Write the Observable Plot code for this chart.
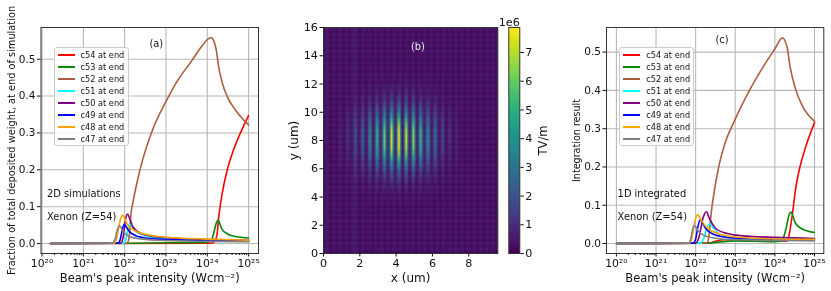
<!DOCTYPE html>
<html><head><meta charset="utf-8">
<script src="https://cdn.jsdelivr.net/npm/d3@7"></script>
<script src="https://cdn.jsdelivr.net/npm/@observablehq/plot@0.6"></script>
<style>
html,body{margin:0;padding:0;background:#fff;overflow:hidden}
#page{position:relative;width:831px;height:291px;overflow:hidden;font-family:"DejaVu Sans",sans-serif;filter:blur(0.45px)}
.legend{position:absolute;top:47px;width:73px;height:97px;background:rgba(255,255,255,.85);border:1px solid #ccc;border-radius:3px;box-sizing:content-box}
.legend div{position:absolute;left:26px;font-size:8.2px;line-height:12px;color:#111;white-space:nowrap}
.legend i{position:absolute;left:3px;width:17px;height:1.5px}
</style></head><body><div id="page"></div>
<script>
const seriesNames = ["c54 at end","c53 at end","c52 at end","c51 at end","c50 at end","c49 at end","c48 at end","c47 at end"];
const seriesColors = ["#ff0000","#0a8a0a","#a9603f","#00ffff","#800080","#0000ff","#ffa500","#808080"];

// [log10 intensity, value]
const a54 = [[20.2,0],[24.1,0.001],[24.16,0.004],[24.23,0.02],[24.28,0.075],[24.36,0.135],[24.48,0.198],[24.64,0.255],[24.81,0.302],[25,0.347]];
const a53 = [[20.2,0],[22.2,0.001],[23,0.002],[24,0.003],[24.06,0.005],[24.1,0.008],[24.16,0.03],[24.22,0.056],[24.26,0.064],[24.3,0.055],[24.35,0.04],[24.49,0.026],[24.69,0.019],[25,0.015]];
const a52 = [[20.2,0],[22.06,0.001],[22.1,0.013],[22.13,0.044],[22.15,0.076],[22.21,0.117],[22.31,0.171],[22.43,0.225],[22.53,0.262],[22.71,0.318],[22.99,0.383],[23.28,0.442],[23.6,0.492],[23.88,0.537],[24.02,0.555],[24.1,0.558],[24.16,0.549],[24.22,0.523],[24.27,0.483],[24.36,0.437],[24.49,0.397],[24.69,0.361],[25,0.322]];
const a51 = [[20.2,0],[21.98,0.001],[22.03,0.012],[22.08,0.04],[22.12,0.052],[22.18,0.045],[22.3,0.03],[22.8,0.015],[23.5,0.01],[25,0.007]];
const a50 = [[20.2,0],[21.9,0.001],[21.96,0.015],[22.02,0.065],[22.07,0.08],[22.12,0.068],[22.2,0.045],[22.4,0.027],[22.8,0.018],[23.5,0.013],[24.5,0.01],[25,0.009]];
const a49 = [[20.2,0],[21.83,0.001],[21.89,0.01],[21.95,0.04],[21.99,0.052],[22.04,0.045],[22.1,0.035],[22.3,0.02],[22.8,0.012],[23.5,0.009],[25,0.007]];
const a48 = [[20.2,0],[21.74,0.001],[21.8,0.012],[21.89,0.062],[21.95,0.077],[22,0.068],[22.05,0.055],[22.2,0.038],[22.5,0.025],[23,0.017],[24,0.012],[25,0.009]];
const a47 = [[20.2,0],[21.7,0.001],[21.76,0.01],[21.83,0.04],[21.88,0.048],[21.95,0.035],[22.1,0.02],[22.3,0.014],[22.8,0.009],[24,0.006],[25,0.005]];

// [log10 intensity, value]
const c54 = [[20,0],[22.35,0.001],[22.5,0.006],[22.7,0.01],[23.3,0.008],[24,0.006],[24.3,0.006],[24.35,0.018],[24.44,0.075],[24.52,0.14],[24.63,0.199],[24.77,0.25],[25,0.316]];
const c53 = [[20,0],[22.3,0.001],[22.7,0.005],[23,0.007],[23.5,0.006],[24,0.005],[24.17,0.006],[24.22,0.016],[24.29,0.043],[24.37,0.078],[24.41,0.082],[24.45,0.074],[24.52,0.053],[24.69,0.038],[25,0.029]];
const c52 = [[20,0],[22.28,0.001],[22.33,0.015],[22.36,0.045],[22.39,0.077],[22.46,0.13],[22.58,0.199],[22.73,0.258],[23,0.325],[23.38,0.404],[23.72,0.464],[24.02,0.512],[24.17,0.536],[24.21,0.537],[24.25,0.531],[24.31,0.512],[24.38,0.464],[24.52,0.404],[24.69,0.36],[25,0.319]];
const c51 = [[20,0],[22.12,0.001],[22.2,0.012],[22.3,0.045],[22.36,0.052],[22.45,0.04],[22.6,0.025],[23,0.013],[24,0.009],[25,0.009]];
const c50 = [[20,0],[22,0.001],[22.08,0.015],[22.19,0.068],[22.27,0.083],[22.35,0.065],[22.5,0.04],[22.8,0.026],[23.2,0.02],[24,0.016],[25,0.013]];
const c49 = [[20,0],[21.94,0.001],[22,0.012],[22.07,0.05],[22.12,0.062],[22.18,0.053],[22.25,0.04],[22.4,0.027],[22.8,0.016],[23.5,0.012],[25,0.01]];
const c48 = [[20,0],[21.84,0.001],[21.9,0.012],[21.99,0.062],[22.05,0.076],[22.1,0.069],[22.15,0.06],[22.3,0.04],[22.6,0.025],[23,0.017],[24,0.012],[25,0.011]];
const c47 = [[20,0],[21.82,0.001],[21.87,0.01],[21.93,0.04],[21.97,0.047],[22.05,0.035],[22.2,0.022],[22.5,0.014],[23,0.01],[24,0.008],[25,0.007]];

const aSeries = [a54,a53,a52,a51,a50,a49,a48,a47];
const cSeries = [c54,c53,c52,c51,c50,c49,c48,c47];

const decades = [20,21,22,23,24,25];
const yTicksFrac = [0,0.1,0.2,0.3,0.4,0.5];
const sup = {"0":"⁰","1":"¹","2":"²","3":"³","4":"⁴","5":"⁵","6":"⁶","7":"⁷","8":"⁸","9":"⁹"};
const xLabel = "Beam's peak intensity (Wcm⁻²)";

// panel (b) field, 1e6 TV/m: peak height per 0.1 um column, envelope per 0.2 um row
const colAmp = [0,0,0,0,0,0,0,0,.1,.35,.12,.02,.25,.8,.28,.03,.45,1.4,.5,.05,.7,2.2,.8,.08,1.2,3.5,1.3,.1,1.7,4.8,1.8,.12,2.1,5.8,2.3,.15,2.7,7.2,2.8,.15,3,7.85,2.9,.15,2.7,7,2.6,.15,2.2,6,2.2,.12,1.8,5,1.8,.1,1.4,3.8,1.3,.08,1,2.7,.85,.05,.5,1.4,.45,.03,.25,.7,.25,.02,.12,.4,.12,.01,0,0,0,0,0,0,0,0,0,0,0,0,0,0,0,0,0,0,0,0];
const rowEnv = [0,0,0,0,0,0,0,0,0,0,0,0,0,0,0,0,0,0,.01,.02,.03,.04,.06,.08,.11,.15,.19,.24,.3,.37,.44,.52,.6,.68,.76,.84,.9,.95,.98,1,1,1,.98,.95,.9,.84,.76,.68,.6,.52,.44,.37,.3,.24,.19,.15,.11,.08,.06,.04,.03,.02,.01,0,0,0,0,0,0,0,0,0,0,0,0,0,0,0,0,0];
// faint plaid in the background
const colBg = [.08,.3,.34,.1,.06,.3,.2,.08,.32,.26,.06,.14,.34,.14,.06,.3,.3,.42,.3,.1,.08,.3,.26,.08,.18,.32,.08,.1,.32,.18,.06,.26,.3,.08,.14,.34,.14,.06,.3,.26,.06,.18,.32,.1,.08,.32,.22,.06,.22,.32,.08,.1,.34,.14,.06,.3,.26,.08,.18,.32,.1,.08,.32,.18,.06,.26,.3,.08,.14,.34,.14,.06,.3,.26,.06,.18,.32,.1,.08,.32,.22,.06,.22,.32,.08,.1,.34,.14,.06,.3,.26,.08,.18,.32,.1,.08];
const rowBg = [.04,.26,.1,.3,.04,.24,.1,.3,.04,.26,.1,.3,.04,.24,.1,.3,.04,.26,.1,.3,.04,.24,.1,.3,.04,.26,.1,.3,.04,.24,.1,.3,.04,.26,.1,.3,.04,.24,.1,.3,.04,.26,.1,.3,.04,.24,.1,.3,.04,.26,.1,.3,.04,.24,.1,.3,.04,.26,.1,.3,.04,.24,.1,.3,.04,.26,.1,.3,.04,.24,.1,.3,.04,.26,.1,.3,.04,.24,.1,.3];
const vMax = 7.87;
const cbTicks = [0,1,2,3,4,5,6,7];
const xTicksB = [0,2,4,6,8];
const yTicksB = [0,2,4,6,8,10,12,14,16];

const page = document.getElementById("page");
const baseStyle = {fontFamily:"DejaVu Sans",background:"transparent",color:"#111",overflow:"visible"};
const place = (el,left)=>{el.style.position="absolute";el.style.left=left+"px";el.style.top="0";page.appendChild(el);};
const minors = d3.range(20,25).flatMap(d=>d3.range(2,10).map(m=>m*10**d));

function curvePanel({series,left,width,mL,mR,xDom,yDom,yLabel,yLabelSize,yOff,notes}){
  const rows = series.flatMap((pts,k)=>pts.map(p=>({x:10**p[0],y:p[1],k})));
  const plot = Plot.plot({
    width,height:291,marginLeft:mL,marginRight:mR,marginTop:27,marginBottom:38,
    style:baseStyle,
    x:{type:"log",domain:xDom.map(v=>10**v)},
    y:{domain:yDom},
    marks:[
      Plot.ruleX(decades.map(d=>10**d),{stroke:"#b8b8b8",strokeWidth:1.1}),
      Plot.ruleY(yTicksFrac,{stroke:"#b8b8b8",strokeWidth:1.1}),
      ...series.map((pts,k)=>Plot.line(rows.filter(r=>r.k===k),{x:"x",y:"y",stroke:seriesColors[k],strokeWidth:1.6,curve:"monotone-x"})),
      Plot.frame({stroke:"#333",strokeWidth:1}),
      Plot.axisX({ticks:decades.map(d=>10**d),tickFormat:v=>"10"+String(Math.round(Math.log10(v))).replace(/./g,c=>sup[c]),tickSize:3.5,tickPadding:2,fontSize:10.8,
        label:xLabel,labelAnchor:"center",labelArrow:"none",labelOffset:28}),
      Plot.axisX({ticks:minors,tickFormat:()=>"",tickSize:2,label:null}),
      Plot.axisY({ticks:yTicksFrac,tickFormat:d3.format(".1f"),tickSize:3.5,tickPadding:2,fontSize:10.5,
        label:yLabel,labelAnchor:"center",labelArrow:"none",labelOffset:yOff}),
      Plot.text(notes,{x:d=>10**d.x,y:"y",text:"t",textAnchor:"start",fontSize:9.9,fill:"#111"})
    ]
  });
  plot.querySelectorAll("g[aria-label='y-axis label'] text").forEach(t=>t.setAttribute("font-size",yLabelSize));
  plot.querySelectorAll("g[aria-label='x-axis label'] text").forEach(t=>t.setAttribute("font-size",11.5));
  place(plot,left);
}
function legend(left){
  const box=document.createElement("div");box.className="legend";box.style.left=left+"px";
  seriesNames.forEach((n,k)=>{
    const row=document.createElement("div");row.textContent=n;row.style.top=(12*k+0.7)+"px";
    const s=document.createElement("i");s.style.background=seriesColors[k];s.style.top=(12*k+6)+"px";
    box.appendChild(row);box.appendChild(s);
  });
  page.appendChild(box);
}

curvePanel({series:aSeries,left:0,width:290,mL:40.5,mR:32,xDom:[19.975,25.24],yDom:[-0.027,0.586],
  yLabel:"Fraction of total deposited weight, at end of simulation",yLabelSize:9.8,yOff:33,
  notes:[{x:22.6,y:0.541,t:"(a)"},{x:20.12,y:0.135,t:"2D simulations"},{x:20.12,y:0.073,t:"Xenon (Z=54)"}]});
legend(53.5);
curvePanel({series:cSeries,left:560,width:271,mL:46,mR:7.7,xDom:[19.75,25.235],yDom:[-0.026,0.5643],
  yLabel:"Integration result",yLabelSize:9.6,yOff:33,
  notes:[{x:22.5,y:0.531,t:"(c)"},{x:20.03,y:0.13,t:"1D integrated"},{x:20.03,y:0.0704,t:"Xenon (Z=54)"}]});
legend(619.3);

// panel (b)
const field = rowEnv.flatMap((e,j)=>colAmp.map((a,i)=>a*e+colBg[i]+rowBg[j]));
const colorOpt = {type:"linear",scheme:"viridis",domain:[0,vMax]};
const b = Plot.plot({
  width:230,height:291,marginLeft:43,marginRight:12.7,marginTop:27,marginBottom:38,style:baseStyle,
  x:{domain:[0,9.6]},y:{domain:[0,16]},color:colorOpt,
  marks:[
    Plot.raster(field,{width:colAmp.length,height:rowEnv.length,x1:0,x2:9.6,y1:0,y2:16,imageRendering:"auto"}),
    Plot.frame({stroke:"#333",strokeWidth:1}),
    Plot.axisX({ticks:xTicksB,tickFormat:d=>String(d),tickSize:3.5,tickPadding:2,fontSize:11.2,label:"x (um)",labelAnchor:"center",labelArrow:"none",labelOffset:28}),
    Plot.axisY({ticks:yTicksB,tickFormat:d=>String(d),tickSize:3.5,tickPadding:2,fontSize:11.2,label:"y (um)",labelAnchor:"center",labelArrow:"none",labelOffset:34}),
    Plot.text([{x:5.2,y:14.6,t:"(b)"}],{x:"x",y:"y",text:"t",fontSize:9.9,fill:"#eee"})
  ]
});
b.querySelectorAll("g[aria-label$='-axis label'] text").forEach(t=>t.setAttribute("font-size",12));
place(b,280);

// colourbar
const levels = d3.range(256).map(i=>(255-i)/255*vMax);
const cb = Plot.plot({
  width:60,height:291,marginLeft:8.3,marginRight:40.7,marginTop:27,marginBottom:38,style:baseStyle,
  x:{domain:[0,1],axis:null},y:{domain:[0,vMax]},color:colorOpt,
  marks:[
    Plot.raster(levels,{width:1,height:256,x1:0,x2:1,y1:vMax,y2:0,imageRendering:"auto"}),
    Plot.frame({stroke:"#333",strokeWidth:1}),
    Plot.axisY({anchor:"right",ticks:cbTicks,tickFormat:d=>String(d),tickSize:3.5,tickPadding:2,fontSize:11.2,label:"TV/m",labelAnchor:"center",labelArrow:"none",labelOffset:27}),
    Plot.text(["1e6"],{frameAnchor:"top-right",text:d=>d,dy:-9,fontSize:11.2,fill:"#111"})
  ]
});
cb.querySelectorAll("g[aria-label='y-axis label'] text").forEach(t=>t.setAttribute("font-size",11.5));
place(cb,500);
</script></body></html>
